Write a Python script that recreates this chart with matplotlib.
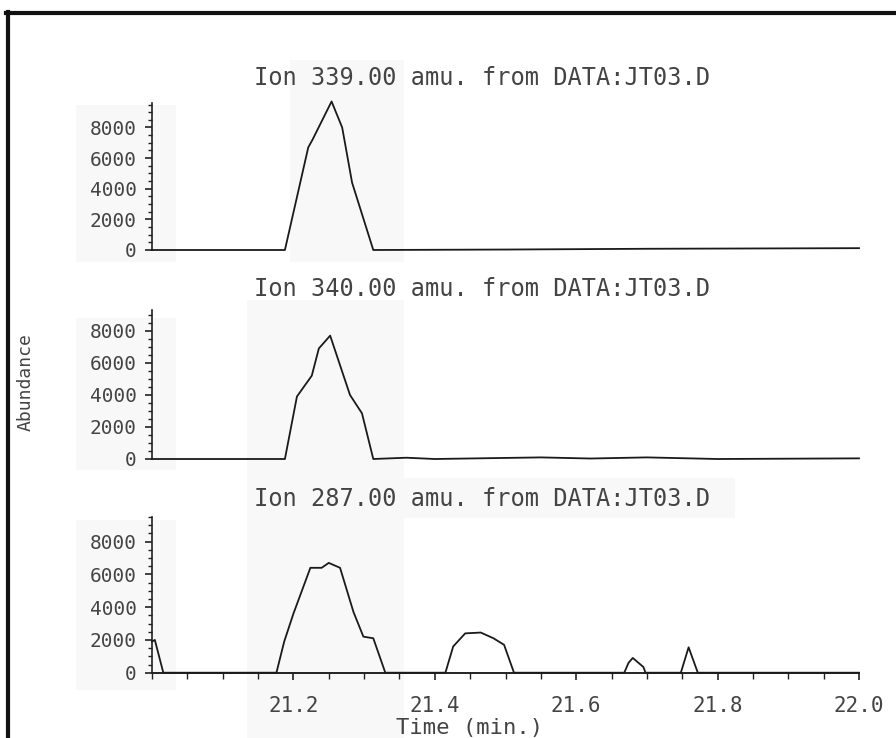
import matplotlib
matplotlib.use("Agg")
import matplotlib.pyplot as plt
from matplotlib.ticker import MultipleLocator, FixedLocator
from matplotlib.lines import Line2D
from matplotlib.patches import Rectangle

# ---- data ----
titles = ["Ion 339.00 amu. from DATA:JT03.D",
          "Ion 340.00 amu. from DATA:JT03.D",
          "Ion 287.00 amu. from DATA:JT03.D"]

t_339 = [21.0, 21.188, 21.221, 21.227, 21.254, 21.269, 21.283, 21.313, 21.5, 21.7, 22.0]
a_339 = [0, 0, 6700, 7200, 9700, 8000, 4400, 0, 30, 80, 120]

t_340 = [21.0, 21.188, 21.205, 21.226, 21.236, 21.252, 21.280, 21.297, 21.313,
         21.36, 21.40, 21.55, 21.62, 21.70, 21.80, 22.0]
a_340 = [0, 0, 3900, 5200, 6900, 7700, 4000, 2850, 0,
         80, 0, 100, 30, 100, 0, 40]

t_287 = [21.0, 21.004, 21.016, 21.176, 21.187, 21.200, 21.212, 21.224, 21.240,
         21.250, 21.266, 21.285, 21.299, 21.313, 21.330, 21.415, 21.426, 21.443,
         21.465, 21.483, 21.498, 21.512, 21.668, 21.674, 21.680, 21.695, 21.698,
         21.748, 21.759, 21.772, 22.0]
a_287 = [1900, 2000, 0, 0, 1900, 3600, 5000, 6400, 6400,
         6700, 6400, 3700, 2200, 2100, 0, 0, 1600, 2400,
         2450, 2100, 1700, 0, 0, 600, 900, 350, 0,
         0, 1550, 0, 0]

series = [(t_339, a_339), (t_340, a_340), (t_287, a_287)]
ytops = [9600, 9300, 9500]
y_ticks = [0, 2000, 4000, 6000, 8000]
y_ticklabels = ["0", "2000", "4000", "6000", "8000"]
x_ticks = [21.2, 21.4, 21.6, 21.8, 22.0]
x_ticklabels = ["21.2", "21.4", "21.6", "21.8", "22.0"]

W, H = 896, 738
fig = plt.figure(figsize=(W / 100, H / 100), dpi=100)
fig.patch.set_facecolor("white")

mono = "DejaVu Sans Mono"
txt_col = "#444444"

# very faint scan shading
for (x0, y0, x1, y1) in [(76, 105, 176, 262), (290, 60, 404, 262), (247, 300, 404, 738),
                         (404, 478, 735, 518), (76, 318, 176, 470), (76, 520, 176, 690)]:
    fig.patches.append(Rectangle((x0 / W, 1 - y1 / H), (x1 - x0) / W, (y1 - y0) / H,
                                 transform=fig.transFigure, facecolor="#f8f8f8",
                                 edgecolor="none", zorder=-5))

# frame (left and top border)
fig.add_artist(Line2D([7.5 / W, 7.5 / W], [0, 1 - 12 / H], transform=fig.transFigure,
                      color="#111", lw=3))
fig.add_artist(Line2D([6 / W, 1], [1 - 13 / H, 1 - 13 / H], transform=fig.transFigure,
                      color="#111", lw=3))

left, right = 152, 859
panels = [(250, 103), (459, 310), (672.7, 517)]
title_y = [78, 289, 499]

for i, ((t, a), (ybot, ytop), ymax) in enumerate(zip(series, panels, ytops)):
    ax = fig.add_axes([left / W, 1 - ybot / H, (right - left) / W, (ybot - ytop) / H])
    ax.set_facecolor("none")
    ax.plot(t, a, color="#1a1a1a", lw=1.3, clip_on=False, zorder=3)
    ax.set_xlim(21.0, 22.0)
    ax.set_ylim(0, ymax)
    for s in ["top", "right"]:
        ax.spines[s].set_visible(False)
    ax.spines["left"].set_color("#222")
    ax.spines["left"].set_linewidth(1.2)
    ax.yaxis.set_major_locator(FixedLocator(y_ticks))
    ax.set_yticklabels(y_ticklabels, fontfamily=mono, fontsize=14, color=txt_col)
    ax.yaxis.set_minor_locator(MultipleLocator(500))
    ax.tick_params(axis="y", which="major", direction="out", length=5, width=1.2,
                   color="#222", pad=6)
    ax.tick_params(axis="y", which="minor", direction="out", length=3, width=1.0,
                   color="#222")
    if i < 2:
        ax.spines["bottom"].set_visible(False)
        ax.set_xticks([])
    else:
        ax.spines["bottom"].set_color("#222")
        ax.spines["bottom"].set_linewidth(1.4)
        ax.xaxis.set_major_locator(FixedLocator(x_ticks))
        ax.set_xticklabels(x_ticklabels, fontfamily=mono, fontsize=15, color=txt_col)
        ax.xaxis.set_minor_locator(MultipleLocator(0.05))
        ax.tick_params(axis="x", which="major", direction="out", length=5, width=1.2,
                       color="#222", pad=12)
        ax.tick_params(axis="x", which="minor", direction="out", length=4, width=1.0,
                       color="#222")
    fig.text(254 / W, 1 - title_y[i] / H, titles[i], ha="left", va="center",
             fontfamily=mono, fontsize=17, color=txt_col)

fig.text(470 / W, 1 - 728 / H, "Time (min.)", ha="center", va="center",
         fontfamily=mono, fontsize=16, color=txt_col)
fig.text(26 / W, 1 - 382 / H, "Abundance", ha="center", va="center", rotation=90,
         fontfamily=mono, fontsize=13, color=txt_col)

fig.savefig("out.png", dpi=100, facecolor="white")
